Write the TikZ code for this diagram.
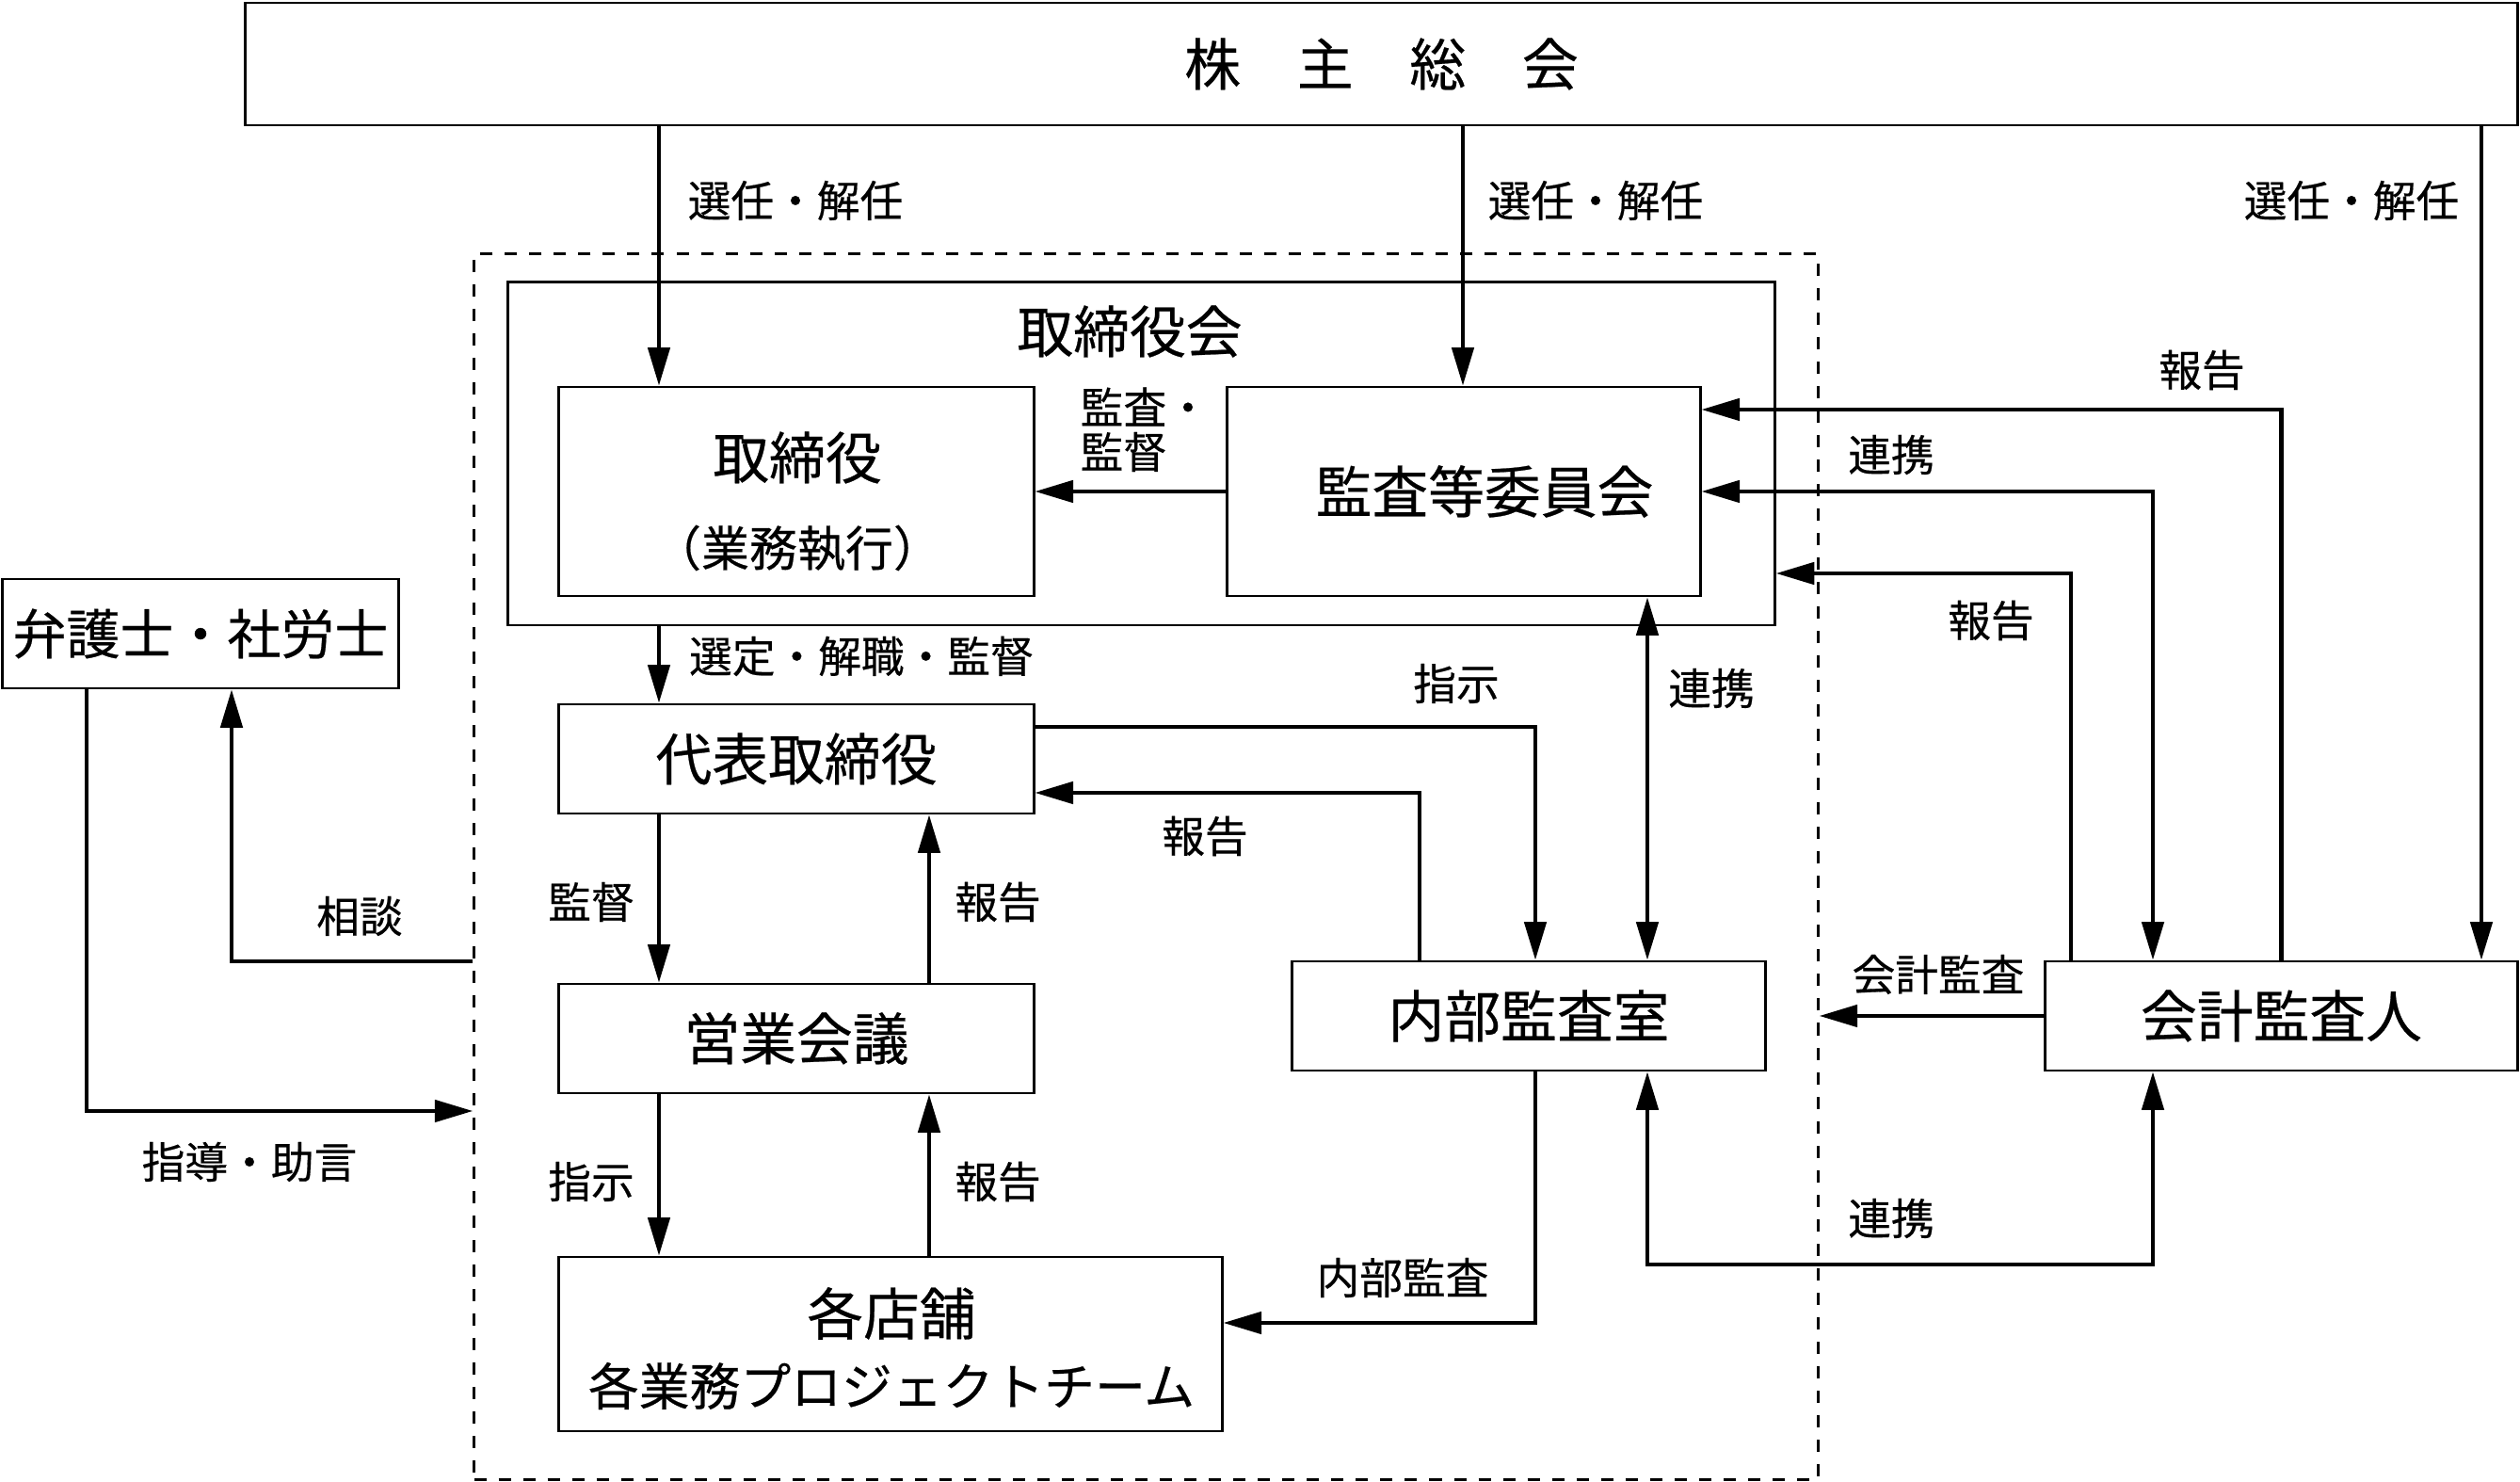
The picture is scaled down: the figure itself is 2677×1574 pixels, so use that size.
\documentclass[tikz,border=0pt]{standalone}
\usepackage{fontspec}
\setmainfont{Noto Sans CJK JP}[FakeBold=0.4]
\usetikzlibrary{arrows.meta}
\begin{document}
\begin{tikzpicture}[x=0.01cm,y=-0.01cm,
  box/.style={draw, line width=0.8pt, inner sep=0pt, rectangle},
  grpbox/.style={draw, line width=0.75pt, dash pattern=on 3.7pt off 3.7pt, inner sep=0pt, rectangle},
  big/.style={font=\fontsize{17}{20}\selectfont},
  lawf/.style={font=\fontsize{16.2}{19}\selectfont},
  mid/.style={font=\fontsize{14.5}{17}\selectfont},
  team/.style={font=\fontsize{15.3}{18}\selectfont},
  lbl/.style={inner sep=0pt, font=\fontsize{13}{15}\selectfont},
  txt/.style={inner sep=0pt},
  arr/.style={line width=1.15pt, -{Triangle[length=11.5pt,width=6.6pt]}},
  arrb/.style={line width=1.15pt, {Triangle[length=11.5pt,width=6.6pt]}-{Triangle[length=11.5pt,width=6.6pt]}}
]
\useasboundingbox (0,0) rectangle (2677,1574);

% boxes
\node[box, big, minimum width=24.13cm, minimum height=1.30cm] (sh) at (1467.5,68) {株\quad 主\quad 総\quad 会};
\node[grpbox, minimum width=14.27cm, minimum height=13.01cm] (grp) at (1217.5,920.5) {};
\node[box, minimum width=13.45cm, minimum height=3.64cm] (bod) at (1212.5,482) {};
\node[txt, big] (bodt) at (1200,352) {取締役会};
\node[box, minimum width=5.04cm, minimum height=2.22cm] (dir) at (846,522) {};
\node[txt, big] (dirt) at (847,486) {取締役};
\node[txt, mid] (dirs) at (847,582) {（業務執行）};
\node[box, big, minimum width=5.02cm, minimum height=2.22cm] (acm) at (1555,522) {\hspace*{0.44cm}監査等委員会};
\node[box, lawf, minimum width=4.20cm, minimum height=1.16cm] (law) at (213,673) {弁護士・社労士};
\node[box, big, minimum width=5.04cm, minimum height=1.16cm] (rep) at (846,806) {代表取締役};
\node[box, big, minimum width=5.04cm, minimum height=1.16cm] (sales) at (846,1103) {営業会議};
\node[box, minimum width=7.04cm, minimum height=1.85cm] (shops) at (946,1427.5) {};
\node[txt, big] (shopt) at (947,1395) {各店舗};
\node[txt, team] (shops2) at (947,1472) {各業務プロジェクトチーム};
\node[box, big, minimum width=5.02cm, minimum height=1.16cm] (ia) at (1624,1079) {内部監査室};
\node[box, big, minimum width=5.01cm, minimum height=1.16cm] (aud) at (2423.5,1079) {会計監査人};

% connectors
\draw[arr] (700,0 |- sh.south) -- (700,0 |- dir.north);
\draw[arr] (1554,0 |- sh.south) -- (1554,0 |- acm.north);
\draw[arr] (2636,0 |- sh.south) -- (2636,0 |- aud.north);
\draw[arr] (acm.west) -- (acm.west -| dir.east);
\draw[arr] (aud.north) |- (acm.east |- 0,435);
\draw[arrb] (acm.east) -| (2287,0 |- aud.north);
\draw[arr] (2200,0 |- aud.north) |- (bod.east |- 0,609);
\draw[arrb] (1750,0 |- acm.south) -- (1750,0 |- ia.north);
\draw[arr] (700,0 |- bod.south) -- (700,0 |- rep.north);
\draw[arr] (rep.east |- 0,772) -| (1631,0 |- ia.north);
\draw[arr] (1508,0 |- ia.north) |- (rep.east |- 0,842);
\draw[arr] (700,0 |- rep.south) -- (700,0 |- sales.north);
\draw[arr] (987,0 |- sales.north) -- (987,0 |- rep.south);
\draw[arr] (700,0 |- sales.south) -- (700,0 |- shops.north);
\draw[arr] (987,0 |- shops.north) -- (987,0 |- sales.south);
\draw[arr] (1631,0 |- ia.south) |- (shops.east |- 0,1405);
\draw[arrb] (1750,0 |- ia.south) -- (1750,1343) -- (2287,1343) -- (2287,0 |- aud.south);
\draw[arr] (aud.west) -- (aud.west -| grp.east);
\draw[arr] (grp.west |- 0,1021) -| (246,0 |- law.south);
\draw[arr] (92,0 |- law.south) |- (grp.west |- 0,1180);

% labels
\node[lbl] (l1) at (845,213) {選任・解任};
\node[lbl] (l2) at (1695,213) {選任・解任};
\node[lbl] (l3) at (2498,213) {選任・解任};
\node[lbl, anchor=west] (l4a) at (1147,432) {監査・};
\node[lbl, anchor=west] (l4b) at (1147,480) {監督};
\node[lbl] (l5) at (2339,393) {報告};
\node[lbl] (l6) at (2009,483) {連携};
\node[lbl] (l7) at (2115,659) {報告};
\node[lbl] (l9) at (915,697) {選定・解職・監督};
\node[lbl] (l10) at (1547,726) {指示};
\node[lbl] (l8) at (1818,731) {連携};
\node[lbl] (l11) at (1280,888) {報告};
\node[lbl] (l12) at (628,958) {監督};
\node[lbl] (l13) at (1060,958) {報告};
\node[lbl] (l19) at (382,973) {相談};
\node[lbl] (l18) at (2059,1035) {会計監査};
\node[lbl] (l20) at (265,1234) {指導・助言};
\node[lbl] (l14) at (628,1255) {指示};
\node[lbl] (l15) at (1060,1255) {報告};
\node[lbl] (l17) at (2009,1294) {連携};
\node[lbl] (l16) at (1490,1357) {内部監査};
\end{tikzpicture}
\end{document}
